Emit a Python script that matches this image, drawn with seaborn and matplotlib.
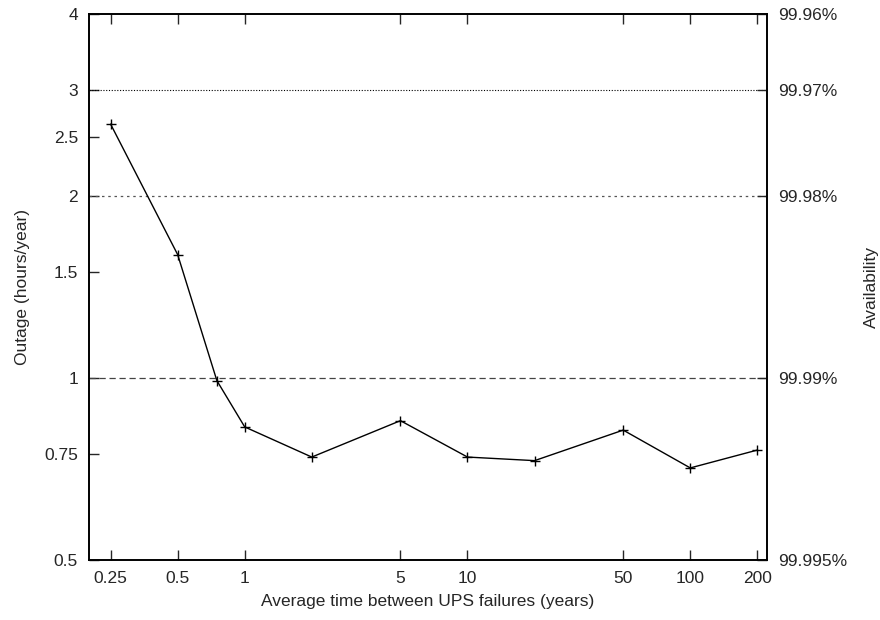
import numpy as np
import pandas as pd
import matplotlib
matplotlib.use("Agg")
import matplotlib.pyplot as plt
import seaborn as sns
from matplotlib.ticker import FixedLocator, FixedFormatter, NullLocator

# Data
years = [0.25, 0.5, 0.75, 1, 2, 5, 10, 20, 50, 100, 200]
outage = [2.63, 1.60, 0.99, 0.83, 0.74, 0.85, 0.74, 0.73, 0.82, 0.71, 0.76]

x_ticks = [0.25, 0.5, 1, 5, 10, 50, 100, 200]
x_tick_labels = ["0.25", "0.5", "1", "5", "10", "50", "100", "200"]
y_ticks = [0.5, 0.75, 1, 1.5, 2, 2.5, 3, 4]
y_tick_labels = ["0.5", "0.75", "1", "1.5", "2", "2.5", "3", "4"]
y2_ticks = [0.5, 1, 2, 3, 4]
y2_tick_labels = ["99.995%", "99.99%", "99.98%", "99.97%", "99.96%"]

df = pd.DataFrame({"years": years, "outage": outage})

sns.set_style("ticks")
plt.rcParams["font.family"] = ["Liberation Sans", "DejaVu Sans"]
plt.rcParams["font.size"] = 12

fig = plt.figure(figsize=(8.8, 6.2), dpi=100)
ax = fig.add_axes([89 / 880, 1 - 560 / 620, (767 - 89) / 880, (560 - 14) / 620])

ax.set_xscale("log")
ax.set_yscale("log")
ax.set_xlim(0.2, 221)
ax.set_ylim(0.5, 4)

# reference lines
ax.axhline(3, color="black", lw=0.8, linestyle=(0, (1, 1.5)), zorder=1)
ax.axhline(2, color="#555555", lw=0.9, linestyle=(0, (2, 3)), zorder=1)
ax.axhline(1, color="#444444", lw=0.9, linestyle=(0, (5, 3)), zorder=1)

sns.lineplot(data=df, x="years", y="outage", ax=ax, color="black", lw=1,
             marker="+", markersize=7, markeredgewidth=1, markeredgecolor="black")

ax.xaxis.set_major_locator(FixedLocator(x_ticks))
ax.xaxis.set_major_formatter(FixedFormatter(x_tick_labels))
ax.xaxis.set_minor_locator(NullLocator())
ax.yaxis.set_major_locator(FixedLocator(y_ticks))
ax.yaxis.set_major_formatter(FixedFormatter(y_tick_labels))
ax.yaxis.set_minor_locator(NullLocator())
ax.tick_params(axis="both", direction="in", length=7, width=1, top=True, right=False,
               labelsize=12.5, pad=8)

ax.set_xlabel("Average time between UPS failures (years)", fontsize=12.5, labelpad=6)
ax.set_ylabel("Outage (hours/year)", fontsize=12.5, labelpad=10)

ax2 = ax.twinx()
ax2.set_yscale("log")
ax2.set_ylim(0.5, 4)
ax2.yaxis.set_major_locator(FixedLocator(y2_ticks))
ax2.yaxis.set_major_formatter(FixedFormatter(y2_tick_labels))
ax2.yaxis.set_minor_locator(NullLocator())
ax2.tick_params(axis="y", direction="in", length=7, width=1, labelsize=12.5, pad=8)
ax2.set_ylabel("Availability", fontsize=12.5, labelpad=12)

for a in (ax, ax2):
    for s in a.spines.values():
        s.set_linewidth(1.2)
        s.set_color("black")

fig.savefig("out.png", dpi=100)
